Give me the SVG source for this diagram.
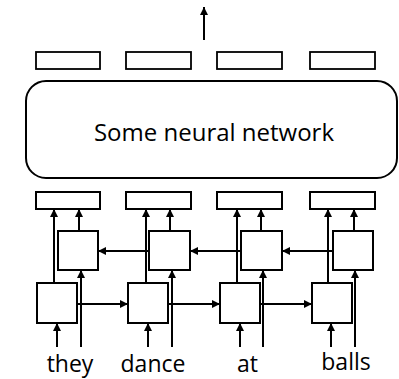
<svg xmlns="http://www.w3.org/2000/svg" width="399" height="379" viewBox="0 0 399 379">
<style>
.box{fill:#fff;stroke:#000;stroke-width:2}
.out{fill:#fff;stroke:#000;stroke-width:1.8}
.ln{stroke:#000;stroke-width:2;fill:none}
.arr{stroke:#000;stroke-width:2;fill:none;marker-end:url(#ah)}
.t{font-family:"Open Sans","Noto Sans",sans-serif;fill:#000;text-anchor:middle}
</style>
<defs>
<marker id="ah" markerUnits="userSpaceOnUse" markerWidth="9" markerHeight="8" refX="8" refY="4" orient="auto">
<path d="M0,0 L8,4 L0,8 z" fill="#000"/>
</marker>
</defs>
<g id="connectors">
<line class="arr" x1="204" y1="40" x2="204" y2="7"/>
<!-- column 1 -->
<line class="arr" x1="54" y1="283" x2="54" y2="209"/>
<line class="arr" x1="79" y1="231" x2="79" y2="209"/>
<line class="arr" x1="57" y1="347" x2="57" y2="323"/>
<line class="arr" x1="81" y1="347" x2="81" y2="270"/>
<!-- column 2 -->
<line class="arr" x1="146" y1="283" x2="146" y2="209"/>
<line class="arr" x1="170" y1="231" x2="170" y2="209"/>
<line class="arr" x1="148" y1="347" x2="148" y2="323"/>
<line class="arr" x1="172" y1="347" x2="172" y2="270"/>
<!-- column 3 -->
<line class="arr" x1="237" y1="283" x2="237" y2="209"/>
<line class="arr" x1="261" y1="231" x2="261" y2="209"/>
<line class="arr" x1="240" y1="347" x2="240" y2="323"/>
<line class="arr" x1="263" y1="347" x2="263" y2="270"/>
<!-- column 4 -->
<line class="arr" x1="328" y1="283" x2="328" y2="209"/>
<line class="arr" x1="354" y1="231" x2="354" y2="209"/>
<line class="arr" x1="331" y1="347" x2="331" y2="323"/>
<line class="arr" x1="355" y1="347" x2="355" y2="270"/>
<!-- forward chain -->
<line class="arr" x1="77" y1="304" x2="128" y2="304"/>
<line class="arr" x1="168" y1="304" x2="220" y2="304"/>
<line class="arr" x1="260" y1="304" x2="312" y2="304"/>
<!-- backward chain -->
<line class="arr" x1="149" y1="251" x2="98" y2="251"/>
<line class="arr" x1="241" y1="251" x2="190" y2="251"/>
<line class="arr" x1="333" y1="251" x2="282" y2="251"/>
</g>
<g id="top-outputs">
<rect class="out" x="36" y="52" width="64" height="17"/>
<rect class="out" x="126" y="52" width="65" height="17"/>
<rect class="out" x="217" y="52" width="65" height="17"/>
<rect class="out" x="310" y="52" width="65" height="17"/>
</g>
<g id="network">
<rect class="box" x="26" y="81" width="371" height="97" rx="20" ry="20"/>
<text class="t" x="214" y="141" font-size="24">Some neural network</text>
</g>
<g id="concat-outputs">
<rect class="box" x="36" y="192" width="64" height="17"/>
<rect class="box" x="126" y="192" width="65" height="17"/>
<rect class="box" x="217" y="192" width="65" height="17"/>
<rect class="box" x="310" y="192" width="65" height="17"/>
</g>
<g id="backward-cells">
<rect class="box" x="58" y="231" width="40" height="39"/>
<rect class="box" x="149" y="231" width="41" height="39"/>
<rect class="box" x="241" y="231" width="41" height="39"/>
<rect class="box" x="333" y="231" width="40" height="39"/>
</g>
<g id="forward-cells">
<rect class="box" x="37" y="283" width="40" height="40"/>
<rect class="box" x="128" y="283" width="40" height="40"/>
<rect class="box" x="220" y="283" width="40" height="40"/>
<rect class="box" x="312" y="283" width="40" height="40"/>
</g>
<g id="words">
<text class="t" x="70" y="372" font-size="23">they</text>
<text class="t" x="153" y="372" font-size="23">dance</text>
<text class="t" x="247.5" y="372" font-size="23">at</text>
<text class="t" x="346" y="370" font-size="23">balls</text>
</g>
</svg>
